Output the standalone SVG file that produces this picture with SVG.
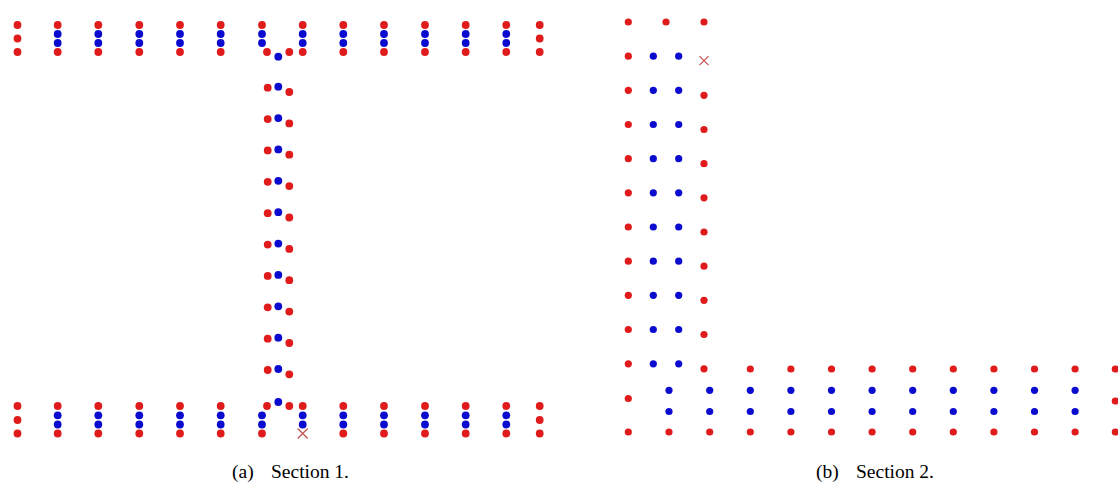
<svg xmlns="http://www.w3.org/2000/svg" xmlns:xlink="http://www.w3.org/1999/xlink" width="1118" height="488" viewBox="0 0 1118 488">
<style>
.r{fill:#e01b1b}
.b{fill:#0b0bd0}
.x{stroke:#c4504f;stroke-width:1.2;fill:none}
.cap{font-family:"Liberation Serif","Times New Roman",serif;font-size:19.5px;fill:#000}
</style>
<defs>
<circle id="R" r="3.9" class="r"/>
<circle id="B" r="3.9" class="b"/>
<circle id="r2" r="3.6" class="r"/>
<circle id="b2" r="3.6" class="b"/>
<g id="col">
<use href="#R" y="0"/><use href="#B" y="9"/><use href="#B" y="18"/><use href="#R" y="27"/>
</g>
<g id="colB">
<use href="#R" y="0"/><use href="#B" y="9.3"/><use href="#B" y="18.5"/><use href="#R" y="27.5"/>
</g>
<g id="edge">
<use href="#R" y="0"/><use href="#R" y="13.5"/><use href="#R" y="27"/>
</g>
<g id="stem">
<use href="#R" x="267.7" y="0"/><use href="#B" x="278.3" y="-1"/><use href="#R" x="289.3" y="4.3"/>
</g>
<g id="col2">
<use href="#r2" y="0"/><use href="#b2" y="21.3"/><use href="#b2" y="42.5"/><use href="#r2" y="63"/>
</g>
<g id="row2">
<use href="#r2" x="0"/><use href="#b2" x="25"/><use href="#b2" x="50.4"/><use href="#r2" x="75.7" y="5"/>
</g>
</defs>

<g id="section1">
<g id="s1-top">
<use href="#edge" x="17.5" y="25"/>
<use href="#col" x="57.7" y="25"/>
<use href="#col" x="98.3" y="25"/>
<use href="#col" x="139.3" y="25"/>
<use href="#col" x="180" y="25"/>
<use href="#col" x="220.7" y="25"/>
<use href="#R" x="262" y="25"/><use href="#B" x="262" y="34"/><use href="#B" x="262" y="43"/>
<use href="#R" x="267" y="52"/><use href="#B" x="278.3" y="56.7"/><use href="#R" x="289.3" y="52"/>
<use href="#col" x="302.7" y="25"/>
<use href="#col" x="343.3" y="25"/>
<use href="#col" x="384" y="25"/>
<use href="#col" x="425" y="25"/>
<use href="#col" x="465.7" y="25"/>
<use href="#col" x="506.3" y="25"/>
<use href="#edge" x="539.7" y="25"/>
</g>
<g id="s1-stem">
<use href="#stem" y="87.7"/>
<use href="#stem" y="119.1"/>
<use href="#stem" y="150.4"/>
<use href="#stem" y="181.8"/>
<use href="#stem" y="213.2"/>
<use href="#stem" y="244.6"/>
<use href="#stem" y="275.9"/>
<use href="#stem" y="307.3"/>
<use href="#stem" y="338.7"/>
<use href="#stem" y="370"/>
</g>
<g id="s1-bottom">
<use href="#R" x="17.5" y="406"/><use href="#R" x="17.5" y="420"/><use href="#R" x="17.5" y="433.5"/>
<use href="#colB" x="57.7" y="406"/>
<use href="#colB" x="98.3" y="406"/>
<use href="#colB" x="139.3" y="406"/>
<use href="#colB" x="180" y="406"/>
<use href="#colB" x="220.7" y="406"/>
<use href="#B" x="262" y="415.3"/><use href="#B" x="262" y="424.5"/><use href="#R" x="262" y="433.5"/>
<use href="#R" x="267" y="406"/><use href="#B" x="278.3" y="402"/><use href="#R" x="289.3" y="406"/>
<use href="#R" x="302.7" y="406"/><use href="#B" x="302.7" y="415.3"/><use href="#B" x="302.7" y="424.5"/>
<path class="x" d="M297.7 428.5 L307.7 438.5 M307.7 428.5 L297.7 438.5"/>
<use href="#colB" x="343.3" y="406"/>
<use href="#colB" x="384" y="406"/>
<use href="#colB" x="425" y="406"/>
<use href="#colB" x="465.7" y="406"/>
<use href="#colB" x="506.3" y="406"/>
<use href="#R" x="539.7" y="406"/><use href="#R" x="539.7" y="420"/><use href="#R" x="539.7" y="433.5"/>
</g>
</g>

<g id="section2">
<g id="s2-vertical">
<use href="#r2" x="628.3" y="22"/><use href="#r2" x="666" y="22"/><use href="#r2" x="704" y="22"/>
<use href="#r2" x="628.3" y="56.2"/><use href="#b2" x="653.3" y="56.2"/><use href="#b2" x="678.7" y="56.2"/>
<path class="x" d="M699.5 56.2 L708.5 65.2 M708.5 56.2 L699.5 65.2"/>
<use href="#row2" x="628.3" y="90.3"/>
<use href="#row2" x="628.3" y="124.5"/>
<use href="#row2" x="628.3" y="158.7"/>
<use href="#row2" x="628.3" y="192.8"/>
<use href="#row2" x="628.3" y="227"/>
<use href="#row2" x="628.3" y="261.2"/>
<use href="#row2" x="628.3" y="295.3"/>
<use href="#row2" x="628.3" y="329.5"/>
<use href="#row2" x="628.3" y="363.8"/>
<use href="#r2" x="628.3" y="398.5"/>
<use href="#r2" x="628.3" y="432"/>
</g>
<g id="s2-horizontal">
<use href="#b2" x="669" y="390.3"/><use href="#b2" x="669" y="411.5"/><use href="#r2" x="669" y="432"/>
<use href="#b2" x="709.7" y="390.3"/><use href="#b2" x="709.7" y="411.5"/><use href="#r2" x="709.7" y="432"/>
<use href="#col2" x="750.3" y="369"/>
<use href="#col2" x="790.9" y="369"/>
<use href="#col2" x="831.5" y="369"/>
<use href="#col2" x="872.1" y="369"/>
<use href="#col2" x="912.7" y="369"/>
<use href="#col2" x="953.3" y="369"/>
<use href="#col2" x="993.9" y="369"/>
<use href="#col2" x="1034.5" y="369"/>
<use href="#col2" x="1075.1" y="369"/>
<use href="#r2" x="1115.3" y="369"/><use href="#r2" x="1115.3" y="401"/><use href="#r2" x="1115.3" y="432"/>
</g>
</g>

<g id="captions">
<text class="cap" y="477.5"><tspan x="232">(a)</tspan><tspan x="271">Section 1.</tspan></text>
<text class="cap" y="477.5"><tspan x="816">(b)</tspan><tspan x="856">Section 2.</tspan></text>
</g>
</svg>
